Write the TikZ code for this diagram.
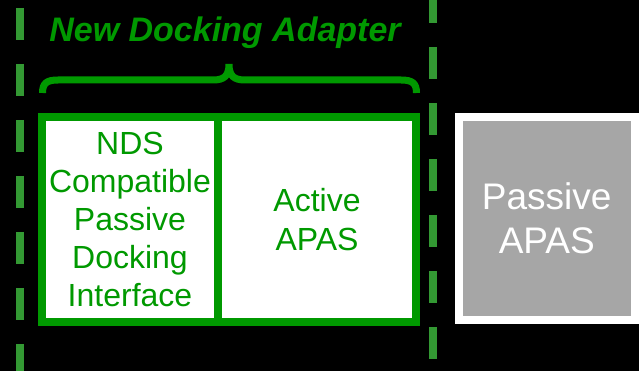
\documentclass[tikz,border=0pt]{standalone}
\usepackage{fontspec}
\setmainfont{Liberation Sans}
\definecolor{ndagreen}{RGB}{0,153,0}
\definecolor{dashgreen}{RGB}{51,153,51}
\definecolor{apasgray}{RGB}{166,166,166}
\begin{document}
\begin{tikzpicture}[x=1pt,y=-1pt,
  greenbox/.style={draw=ndagreen,line width=8pt,fill=white,rectangle,inner sep=0pt,
    text=ndagreen,align=center,font=\fontsize{32}{38}\selectfont},
  graybox/.style={draw=white,line width=8pt,fill=apasgray,rectangle,inner sep=0pt,
    text=white,align=center,font=\fontsize{37}{44}\selectfont},
  sepline/.style={draw=dashgreen,line width=8pt,dash pattern=on 32pt off 24pt},
  bracestyle/.style={draw=ndagreen,line width=7pt}]
\fill[black] (0,0) rectangle (639,371);
\useasboundingbox (0,0) rectangle (639,371);
% dashed separators
\coordinate (l1) at (20,8);
\coordinate (l2) at (20,371);
\coordinate (r1) at (433,0);
\coordinate (r2) at (433,371);
\draw[sepline] (l1) -- (l2);
\draw[sepline,dash phase=9pt] (r1) -- (r2);
% boxes
\node[greenbox,minimum width=176pt,minimum height=204.5pt] (nds) at (130,219.75)
  {NDS\\Compatible\\Passive\\Docking\\Interface};
\node[greenbox,minimum width=198pt,minimum height=204.5pt,
  font=\fontsize{32}{39}\selectfont] (active) at (317,219.75) {Active\\APAS};
\node[graybox,minimum width=175.5pt,minimum height=203pt] (passive) at (546.75,218.5)
  {Passive\\APAS};
% brace
\coordinate (b1) at (42.5,93);
\coordinate (b2) at (416.5,93);
\coordinate (bt) at (229,64);
\draw[bracestyle] (b1) .. controls (42.5,83) and (47,80) .. (58,80) -- (213,80)
  .. controls (224,80) and (229,76) .. (bt)
  .. controls (229,76) and (234,80) .. (245,80) -- (401,80)
  .. controls (412,80) and (416.5,83) .. (b2);
% title
\node[anchor=base,text=ndagreen,inner sep=0pt,
  font=\fontsize{34}{40}\selectfont\bfseries\itshape] (title) at (225,42)
  {New Docking Adapter};
\end{tikzpicture}
\end{document}
